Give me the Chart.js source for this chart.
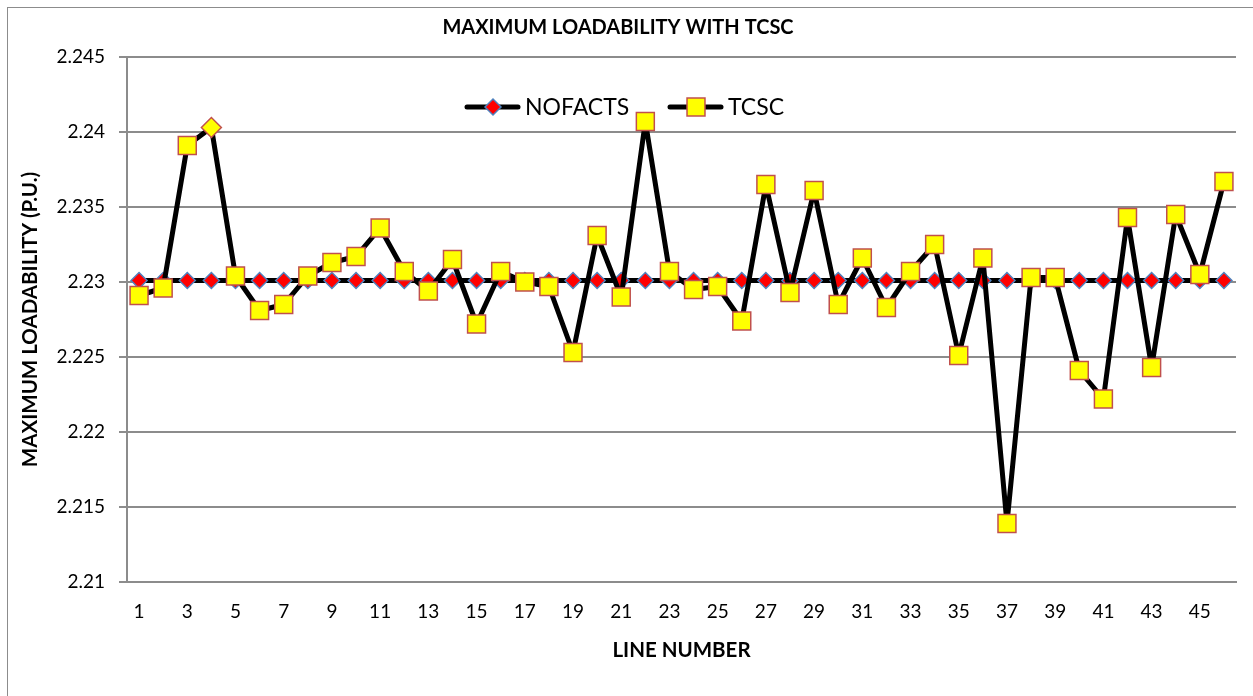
<!DOCTYPE html>
<html>
<head>
<meta charset="utf-8">
<script src="https://cdn.jsdelivr.net/npm/chart.js@4"></script>
<style>
  body { margin: 0; background: #fff; }
  #wrap { position: relative; width: 1253px; height: 696px; overflow: hidden; }
  #frame { position: absolute; left: 7px; top: 7px; width: 1400px; height: 900px; border: 1.5px solid #8c8c8c; }
  canvas { position: absolute; left: 0; top: 0; }
</style>
</head>
<body>
<div id="wrap">
  <div id="frame"></div>
  <canvas id="myChart" width="1253" height="696"></canvas>
</div>
<script>
const lineNumbers = [1, 2, 3, 4, 5, 6, 7, 8, 9, 10, 11, 12, 13, 14, 15, 16, 17, 18, 19, 20, 21, 22, 23,
    24, 25, 26, 27, 28, 29, 30, 31, 32, 33, 34, 35, 36, 37, 38, 39, 40, 41, 42, 43, 44, 45, 46];

const noFacts = [2.2301, 2.2301, 2.2301, 2.2301, 2.2301, 2.2301, 2.2301, 2.2301, 2.2301, 2.2301,
    2.2301, 2.2301, 2.2301, 2.2301, 2.2301, 2.2301, 2.2301, 2.2301, 2.2301, 2.2301,
    2.2301, 2.2301, 2.2301, 2.2301, 2.2301, 2.2301, 2.2301, 2.2301, 2.2301, 2.2301,
    2.2301, 2.2301, 2.2301, 2.2301, 2.2301, 2.2301, 2.2301, 2.2301, 2.2301, 2.2301,
    2.2301, 2.2301, 2.2301, 2.2301, 2.2301, 2.2301];

const tcsc = [2.2291, 2.2296, 2.2391, 2.2403, 2.2304, 2.2281, 2.2285, 2.2304, 2.2313, 2.2317,
    2.2336, 2.2307, 2.2294, 2.2315, 2.2272, 2.2307, 2.2300, 2.2297, 2.2253, 2.2331,
    2.2290, 2.2407, 2.2307, 2.2295, 2.2297, 2.2274, 2.2365, 2.2293, 2.2361, 2.2285,
    2.2316, 2.2283, 2.2307, 2.2325, 2.2251, 2.2316, 2.2139, 2.2303, 2.2303, 2.2241,
    2.2222, 2.2343, 2.2243, 2.2345, 2.2305, 2.2367];

const yTicks = [2.21, 2.215, 2.22, 2.225, 2.23, 2.235, 2.24, 2.245];

const FONT = 'Lato, "Liberation Sans", sans-serif';
const GRID = '#8c8c8c';

// legend drawn inside the plot: line segment with the marker on it, then the name
const lineLegend = {
    id: 'lineLegend',
    beforeDatasetsDraw(chart) {
        const ctx = chart.ctx;
        const area = chart.chartArea;
        const y = area.top + 50;
        const starts = [area.left + 338, area.left + 541];
        chart.data.datasets.forEach((ds, i) => {
            const x0 = starts[i];
            ctx.save();
            ctx.strokeStyle = ds.borderColor;
            ctx.lineWidth = ds.borderWidth;
            ctx.lineCap = 'round';
            ctx.beginPath();
            ctx.moveTo(x0 + 2, y);
            ctx.lineTo(x0 + 53, y);
            ctx.stroke();
            ctx.fillStyle = ds.pointBackgroundColor;
            ctx.strokeStyle = ds.pointBorderColor;
            ctx.lineWidth = ds.pointBorderWidth;
            Chart.helpers.drawPoint(ctx, {
                pointStyle: ds.legendStyle,
                radius: ds.legendRadius,
                borderWidth: ds.pointBorderWidth
            }, x0 + 28, y);
            ctx.fillStyle = '#000';
            ctx.font = '23px ' + FONT;
            ctx.textBaseline = 'middle';
            ctx.fillText(ds.label, x0 + 60, y + 1);
            ctx.restore();
        });
    }
};

const ctx = document.getElementById('myChart').getContext('2d');
const chart = new Chart(ctx, {
    type: 'line',
    data: {
        labels: lineNumbers,
        datasets: [
            {
                label: 'NOFACTS',
                data: noFacts,
                borderColor: '#000',
                borderWidth: 5,
                borderJoinStyle: 'round',
                pointStyle: 'rectRot',
                pointRadius: 8,
                pointBackgroundColor: '#ff0000',
                pointBorderColor: '#4f81bd',
                pointBorderWidth: 1.5,
                legendStyle: 'rectRot',
                legendRadius: 8,
                order: 1
            },
            {
                label: 'TCSC',
                data: tcsc,
                borderColor: '#000',
                borderWidth: 5,
                borderJoinStyle: 'round',
                pointStyle: c => c.dataIndex === 3 ? 'rectRot' : 'rect',
                pointRadius: c => c.dataIndex === 3 ? 10 : 12.7,
                pointBackgroundColor: '#ffff00',
                pointBorderColor: '#c0504d',
                pointBorderWidth: 1.5,
                legendStyle: 'rect',
                legendRadius: 12.7,
                order: 0
            }
        ]
    },
    options: {
        responsive: false,
        animation: false,
        events: [],
        layout: { padding: { left: 0, right: 17, top: 0, bottom: 0 } },
        plugins: {
            legend: { display: false },
            tooltip: { enabled: false },
            title: {
                display: true,
                text: 'MAXIMUM LOADABILITY WITH TCSC',
                color: '#000',
                font: { family: FONT, size: 20, weight: 'bold' },
                padding: { top: 16, bottom: 17 }
            }
        },
        scales: {
            x: {
                offset: true,
                grid: { display: true, drawOnChartArea: false, drawTicks: false },
                border: { display: true, color: GRID, width: 2 },
                ticks: {
                    autoSkip: false,
                    maxRotation: 0,
                    padding: 18,
                    color: '#000',
                    font: { family: FONT, size: 19 },
                    callback: (v, i) => i % 2 === 0 ? String(lineNumbers[i]) : ''
                },
                title: {
                    display: true,
                    text: 'LINE NUMBER',
                    color: '#000',
                    font: { family: FONT, size: 20.5, weight: 'bold' },
                    padding: { top: 0, bottom: 33 }
                },
                afterFit: s => { s.height = 114; }
            },
            y: {
                min: yTicks[0],
                max: yTicks[yTicks.length - 1],
                afterBuildTicks: s => { s.ticks = yTicks.map(v => ({ value: v })); },
                grid: { color: GRID, lineWidth: 2, tickLength: 8 },
                border: { display: true, color: GRID, width: 2 },
                ticks: {
                    padding: 14,
                    color: '#000',
                    font: { family: FONT, size: 19 },
                    callback: v => String(Number(v.toFixed(3)))
                },
                title: {
                    display: true,
                    text: 'MAXIMUM LOADABILITY (P.U.)',
                    color: '#000',
                    font: { family: FONT, size: 20.5, weight: 'bold' },
                    padding: { top: 18, bottom: 0 }
                },
                afterFit: s => { s.width = 127; }
            }
        }
    },
    plugins: [lineLegend]
});
</script>
</body>
</html>
